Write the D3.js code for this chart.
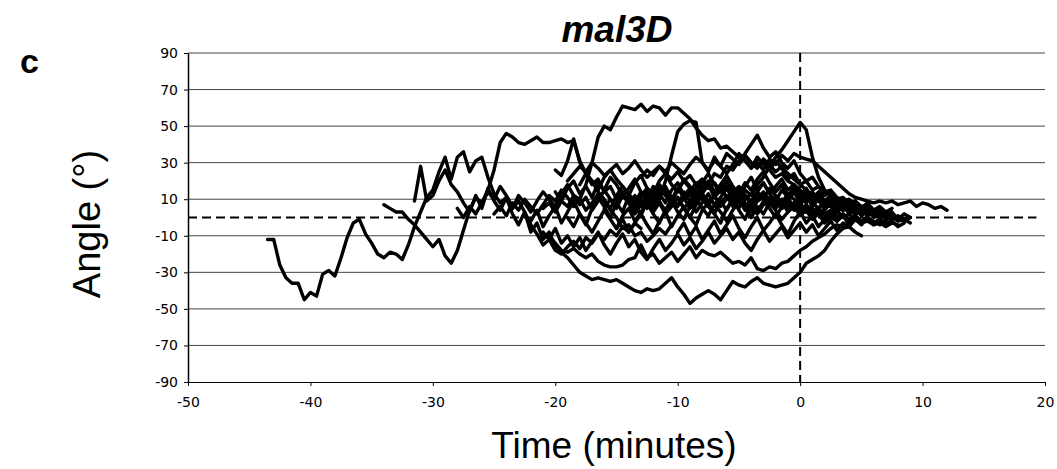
<!DOCTYPE html>
<html>
<head>
<meta charset="utf-8">
<script src="https://cdn.jsdelivr.net/npm/d3@7"></script>
<style>
body { margin: 0; background: #fff; }
svg { display: block; }
</style>
</head>
<body>
<svg id="chart" width="1057" height="469"></svg>
<script>
// sampling interval of every trace (minutes)
const timeStep = 0.5;

// axis ticks
const xTicks = [-50, -40, -30, -20, -10, 0, 10, 20];
const yTicks = [90, 70, 50, 30, 10, -10, -30, -50, -70, -90];

// each trace: start time + angle every timeStep
const trace01 = [-12,-12,-26,-33,-36,-36,-45,-41,-43,-31,-29,-32,-22,-11,-3,-1,-9,-14,-20,-22,-19,-20,-23,-15,-5,3,11,15,25,33,21,33,36,25,31,33,22,13,8,11,5,9];
const trace02 = [7,5,3,3,-1,-4,-8,-12,-16,-12,-21,-25,-18,-7,4,11,8,14,10,17,12,6,9,3,-4,-9,-15,-12,-18,-20,-16,-13,-17,-11,-14,-9,-12,-7,-10,-5,-8,-3,-6];
const trace03 = [9,28,9,12,20,26,18,14,8,3,12,5,16,9,4,11,2,-4,3,-8,-3,-12,-8,-16,-19,-22,-26,-30,-32,-34,-33,-34,-35,-34,-36,-38,-40,-41,-39,-40,-39,-36,-33,-38,-42,-47,-44,-42,-40,-42,-45,-40,-35,-37,-38,-35,-33,-36,-37,-38,-37,-36,-33,-30,-25,-23,-21,-18,-13,-9,-6,-5,-8,-10];
const trace04 = [5,0,6,2,8,15,26,41,46,44,41,40,42,44,41,41,42,43,41,42,31,24,20,14,10,4,0,-6,-4,-10,-8,-13,-10,-6,-9,-4];
const trace05 = [5,8,3,9,6,12,10,18,30,44,50,48,55,61,60,59,62,58,61,60,56,60,60,57,54,49,45,42,43,38,39,36,33,34,30,28,30,26,22,24,20,18,15,12,14,10,8,9,6,4,5,2,3];
const trace06 = [8,3,9,5,14,10,20,34,47,51,53,52,30,25,33,28,24,29,35,31,27,33,29,26,31,27,21,24,18,20,15,17,12,14,10,11,8,9,6,7,4,5,3];
const trace07 = [10,14,9,15,12,18,22,28,33,37,42,47,52,48,33,22,15,12,9,8,6,4,5,2,3,1,2,-1];
const trace08 = [12,16,20,18,24,22,28,26,31,35,40,45,38,33,36,30,27,31,24,20,22,17,14,15,11,9,10,7,5,6,3,4];
const trace09 = [-10,-14,-18,-19,-17,-20,-22,-20,-24,-26,-27,-27,-26,-23,-22,-15,-22,-20,-25,-22,-19,-24,-20,-16,-22,-18,-20,-21,-19,-22,-25,-24,-26,-22,-28,-29,-27,-28,-25,-24,-21,-18,-16,-13,-11,-9,-6,-4,-5];
const trace10 = [27,30,26,32,29,34,31,35,33,32,31,28,25,22,19,16,13,11,10,9,8,9,8,9,7,8,9,6,8,7,5,6,4];
const trace11 = [22,26,23,28,25,30,27,24,29,33,30,26,31,28,35,32,29,34,30,27,32,29,25,28,24,21,18,15,12,10,8,6,7,4];
const trace12 = [26,23,31,43,30,24,18,21,14,17,10,14,8,12,6,10,5,9,3];
const trace13 = [2,6,1,8,4,10,6,2,7,12,9,15,11,6,10,4,8,13,9,5,12,17,13,8,14,10,6,12,16,11,7,10,14,19,13,9,12,6,10,15,9,12,7,11,14,9,6,10,5,8,4,7,3,5,2,4,1];
const trace14 = [10,5,12,8,3,9,14,10,6,13,18,12,7,11,4,9,15,10,5,12,8,2,7,13,9,16,12,7,11,5,9,14,10,6,13,17,11,8,12,6,9,4,8,11,7,10,5,8,3,6,2,5,1,3,0,2,-1,1,-2,0,-3];
const trace15 = [-2,4,-5,1,6,-3,3,9,2,-4,5,11,6,0,8,3,12,7,1,9,14,8,4,10,16,11,5,9,13,7,3,8,12,6,10,4,8,2,7,11,5,9,3,6,1,4,-1,2,-3,0,-2,1,-4,-1,-3,-2,-4,-3,-5,-3,-4];
const trace16 = [14,9,16,20,13,17,11,19,15,22,18,12,16,21,14,10,17,13,8,15,19,12,16,9,13,18,11,15,20,14,17,12,9,14,10,16,12,8,13,10,7,11,8,5,9,6,3,6,4,2,4,1,3,0,2,-1,1,-2,0];
const trace17 = [0,-5,2,-3,-8,-2,4,-1,-6,1,5,-2,3,8,2,-3,4,9,3,-1,6,11,5,1,7,3,-2,4,9,5,0,6,2,8,4,-1,3,7,2,5,0,3,-2,1,4,0,2,-1,-3,0,-2,-4];
const trace18 = [18,24,20,15,22,26,21,17,12,19,23,16,13,20,24,18,14,21,17,11,16,20,14,18,23,17,13,19,15,21,25,19,14,18,12,16,10,14,8,11,6,9,4,7,3,5,2,4,1,2,-1,0,-2,-1,-3];
const trace19 = [5,10,7,13,9,4,11,15,8,12,17,10,6,14,9,3,8,13,7,11,16,10,5,12,8,14,19,13,9,15,11,17,12,8,13,9,6,10,7,4,8,5,3,6,2,4,1,3];
const trace20 = [-6,-1,-8,-3,2,-4,-9,-2,3,-5,1,6,0,-4,4,8,2,-3,5,10,4,-1,7,2,9,5,0,6,11,5,8,3,7,12,6,9,4,8,3,6,1,4,2,5,0,3,-1,2,0];
const trace21 = [12,16,11,18,14,9,15,20,16,12,19,24,18,14,20,16,11,17,22,15,19,13,17,21,15,18,12,16,10,14,9,12,7,10,6,9,5,8,4,6,3,5];
const trace22 = [3,8,2,6,11,5,0,7,12,6,2,9,4,10,15,8,3,9,13,7,11,5,9,14,8,12,6,10,4,8,3,7,2,5,1,4,0,3,-1,1];
const trace23 = [-8,-3,-10,-5,-12,-7,-2,-9,-4,1,-6,-11,-5,0,-7,-3,2,-4,-9,-2,3,-3,1,-5,-1,4,-2,2,-3,1,-2,0,-4,-1,-3,-2,-5,-3];
const trace24 = [-8,-12,-6,-14,-10,-16,-11,-18,-13,-8,-15,-20,-14,-9,-16,-12,-19,-23,-17,-12,-18,-14,-9,-15,-11,-17,-13,-8,-14,-10,-6,-12,-8,-14,-18,-12,-7,-13,-9,-5,-11,-7,-3,-8,-4,-10,-6,-2,-7,-3,-5,-1,-4,0,-3,-1,-4];
const trace25 = [20,24,28,25,30,27,23,26,29,24,27,31,26,22,25,28,24,21,25,20,23,18,21,16,19,14,17,12,15,10,13,9,11,7,9,5,8,4,6,3,5,2];

const traceStarts = [-43.5, -34, -31.5, -28, -21, -14, -6, -9, -20.5, -4, -13, -20,
                     -25, -24, -22, -20, -19, -18, -16, -15, -13, -12, -10, -21, -19];
const traceAngles = [trace01, trace02, trace03, trace04, trace05, trace06, trace07, trace08,
                     trace09, trace10, trace11, trace12, trace13, trace14, trace15, trace16,
                     trace17, trace18, trace19, trace20, trace21, trace22, trace23, trace24,
                     trace25];

// build point lists for d3.line
const traces = traceAngles.map((vals, i) =>
    vals.map((a, j) => ({ t: traceStarts[i] + j * timeStep, a: a })));

const svg = d3.select('#chart');
const x = d3.scaleLinear().domain([-50, 20]).range([188, 1045]);
const y = d3.scaleLinear().domain([-90, 90]).range([382, 53]);

// horizontal gridlines
svg.append('g')
    .selectAll('line')
    .data(yTicks.filter(d => d > -90))
    .join('line')
    .attr('x1', x(-50))
    .attr('x2', x(20))
    .attr('y1', d => y(d))
    .attr('y2', d => y(d))
    .attr('stroke', '#444')
    .attr('stroke-width', 1);

// y axis
const yAxis = svg.append('g')
    .attr('transform', `translate(${x(-50)},0)`)
    .call(d3.axisLeft(y).tickValues(yTicks).tickFormat(d => String(d))
        .tickSizeInner(4).tickSizeOuter(0).tickPadding(6));
yAxis.selectAll('text')
    .style('font-family', '"DejaVu Sans", Verdana, sans-serif')
    .style('font-size', '14px');
yAxis.select('.domain').attr('stroke-width', 1.5);

// x axis
const xAxis = svg.append('g')
    .attr('transform', `translate(0,${y(-90)})`)
    .call(d3.axisBottom(x).tickValues(xTicks).tickFormat(d => String(d))
        .tickSizeInner(4).tickSizeOuter(0).tickPadding(11));
xAxis.selectAll('text')
    .style('font-family', '"DejaVu Sans", Verdana, sans-serif')
    .style('font-size', '14px');

// dashed reference lines
svg.append('line')
    .attr('x1', x(-50)).attr('x2', x(19.3))
    .attr('y1', y(0)).attr('y2', y(0))
    .attr('stroke', '#000').attr('stroke-width', 2)
    .attr('stroke-dasharray', '9,5');

svg.append('line')
    .attr('x1', x(0)).attr('x2', x(0))
    .attr('y1', y(90)).attr('y2', y(-90))
    .attr('stroke', '#000').attr('stroke-width', 2)
    .attr('stroke-dasharray', '9,5');

// traces
const line = d3.line()
    .x(d => x(d.t))
    .y(d => y(d.a));

svg.append('g')
    .selectAll('path')
    .data(traces)
    .join('path')
    .attr('d', line)
    .attr('fill', 'none')
    .attr('stroke', '#000')
    .attr('stroke-width', 3.4)
    .attr('stroke-linejoin', 'round')
    .attr('stroke-linecap', 'round');

// texts
svg.append('text')
    .attr('x', 20)
    .attr('y', 73)
    .style('font-family', '"Liberation Sans", Arial, sans-serif')
    .style('font-weight', 'bold')
    .style('font-size', '34px')
    .text('c');

svg.append('text')
    .attr('x', 617)
    .attr('y', 42)
    .attr('text-anchor', 'middle')
    .style('font-family', '"Liberation Sans", Arial, sans-serif')
    .style('font-weight', 'bold')
    .style('font-style', 'italic')
    .style('font-size', '37px')
    .text('mal3D');

svg.append('text')
    .attr('transform', 'translate(100,224) rotate(-90)')
    .attr('text-anchor', 'middle')
    .style('font-family', '"Liberation Sans", Arial, sans-serif')
    .style('font-size', '38px')
    .text('Angle (°)');

svg.append('text')
    .attr('x', 614)
    .attr('y', 458)
    .attr('text-anchor', 'middle')
    .style('font-family', '"Liberation Sans", Arial, sans-serif')
    .style('font-size', '37px')
    .text('Time (minutes)');
</script>
</body>
</html>
